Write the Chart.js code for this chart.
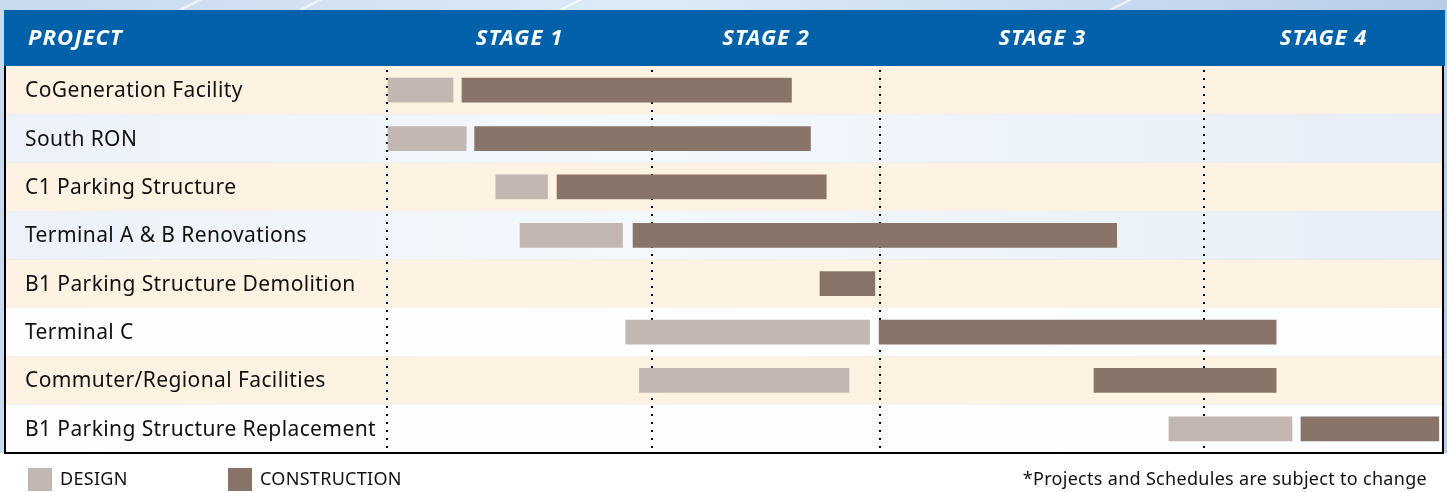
<!DOCTYPE html>
<html>
<head>
<meta charset="utf-8">
<script src="https://cdn.jsdelivr.net/npm/chart.js@4.4.1/dist/chart.umd.min.js"></script>
<style>
  html, body { margin: 0; padding: 0; background: #fff; }
  #wrap { width: 1447px; height: 492px; }
</style>
</head>
<body>
<div id="wrap"><canvas id="gantt" width="1447" height="492"></canvas></div>
<script>
// Timeline runs 0..100 across the chart area
const projects = [
  'CoGeneration Facility',
  'South RON',
  'C1 Parking Structure',
  'Terminal A & B Renovations',
  'B1 Parking Structure Demolition',
  'Terminal C',
  'Commuter/Regional Facilities',
  'B1 Parking Structure Replacement'
];
const designStart       = [0.1, 0.1, 10.3, 12.6, null, 22.6, 23.9, 74.05];
const designEnd         = [6.25, 7.5, 15.2, 22.3, null, 45.7, 43.75, 85.7];
const constructionStart = [7.1, 8.3, 16.1, 23.3, 41.0, 46.6, 66.95, 86.55];
const constructionEnd   = [38.3, 40.1, 41.6, 69.1, 46.2, 84.2, 84.2, 99.6];

const stageLabels = ['STAGE 1', 'STAGE 2', 'STAGE 3', 'STAGE 4'];
const stageBounds = [0, 25.1, 46.7, 77.4, 100];

const DESIGN_COLOR = '#c2b8b1';
const CONSTRUCTION_COLOR = '#887468';
const HEADER_BLUE = '#0061ab';
const FONT = '"Noto Sans", "DejaVu Sans", sans-serif';

const toRange = (s, e) => s.map((v, i) => (v == null ? null : [v, e[i]]));

// Background, rows, header band, dotted stage lines, labels, legend
const ganttDecor = {
  id: 'ganttDecor',
  beforeDraw(chart) {
    const { ctx, chartArea: a, scales: { x, y } } = chart;
    const W = chart.width;
    ctx.save();
    // sky behind the table
    const sky = ctx.createLinearGradient(0, 0, W, 0);
    sky.addColorStop(0, '#c9d9ee');
    sky.addColorStop(0.45, '#dcebf7');
    sky.addColorStop(1, '#b9cde8');
    ctx.fillStyle = sky;
    ctx.fillRect(0, 0, W, a.bottom);
    // a few faint light streaks
    ctx.strokeStyle = 'rgba(255,255,255,0.7)';
    ctx.lineWidth = 2;
    [[180, 10, 260, -30], [300, 10, 380, -30], [560, 10, 640, -30], [1110, 10, 1190, -30]].forEach(s => {
      ctx.beginPath(); ctx.moveTo(s[0], s[1]); ctx.lineTo(s[2], s[3]); ctx.stroke();
    });

    const band = (y.bottom - y.top) / projects.length;
    const left = 5, right = 1443;
    projects.forEach((p, i) => {
      const cy = y.getPixelForValue(i);
      ctx.fillStyle = i % 2 === 0 ? '#fef3e3' : (i < 4 ? 'rgba(255,255,255,0.65)' : 'rgba(255,255,255,0.95)');
      ctx.fillRect(left, cy - band / 2, right - left, band);
    });

    // header band
    ctx.fillStyle = HEADER_BLUE;
    ctx.fillRect(4, 10, W - 6, a.top - 10);
    ctx.fillStyle = '#ffffff';
    ctx.font = 'italic bold 22px ' + FONT;
    ctx.letterSpacing = '1px';
    ctx.textBaseline = 'middle';
    ctx.textAlign = 'left';
    const hy = (10 + a.top) / 2 + 1;
    ctx.fillText('PROJECT', 28, hy);
    ctx.textAlign = 'center';
    stageLabels.forEach((s, i) => {
      const cx = (x.getPixelForValue(stageBounds[i]) + x.getPixelForValue(stageBounds[i + 1])) / 2;
      ctx.fillText(s, cx, hy);
    });

    // project names
    ctx.fillStyle = '#111111';
    ctx.font = '21px ' + FONT;
    ctx.letterSpacing = '0.4px';
    ctx.textAlign = 'left';
    projects.forEach((p, i) => {
      ctx.fillText(p, 25, y.getPixelForValue(i) + 1);
    });
    ctx.letterSpacing = '0px';

    // dotted stage lines
    ctx.strokeStyle = '#000000';
    ctx.lineWidth = 2;
    ctx.setLineDash([2, 6]);
    stageBounds.slice(0, 4).forEach(v => {
      const px = Math.round(x.getPixelForValue(v));
      ctx.beginPath();
      ctx.moveTo(px, a.top + 4);
      ctx.lineTo(px, a.bottom);
      ctx.stroke();
    });
    ctx.setLineDash([]);
    ctx.restore();
  },
  afterDraw(chart) {
    const { ctx, chartArea: a } = chart;
    ctx.save();
    // table frame
    ctx.strokeStyle = '#000000';
    ctx.lineWidth = 2;
    ctx.beginPath();
    ctx.moveTo(5, a.top);
    ctx.lineTo(5, a.bottom);
    ctx.lineTo(1443, a.bottom);
    ctx.lineTo(1443, a.top);
    ctx.stroke();

    // legend
    const ly = 480;
    ctx.font = '18px ' + FONT;
    ctx.letterSpacing = '0.3px';
    ctx.textBaseline = 'middle';
    ctx.textAlign = 'left';
    chart.data.datasets.forEach((ds, i) => {
      const lx = i === 0 ? 28 : 228;
      ctx.fillStyle = ds.backgroundColor;
      ctx.fillRect(lx, ly - 12, 24, 23);
      ctx.fillStyle = '#111111';
      ctx.fillText(ds.label.toUpperCase(), lx + 32, ly);
    });
    ctx.textAlign = 'right';
    ctx.fillText('*Projects and Schedules are subject to change', 1427, ly);
    ctx.restore();
  }
};

new Chart(document.getElementById('gantt'), {
  type: 'bar',
  data: {
    labels: projects,
    datasets: [
      {
        label: 'Design',
        data: toRange(designStart, designEnd),
        backgroundColor: DESIGN_COLOR,
        grouped: false,
        barThickness: 24,
        borderWidth: 0,
        borderSkipped: false
      },
      {
        label: 'Construction',
        data: toRange(constructionStart, constructionEnd),
        backgroundColor: CONSTRUCTION_COLOR,
        grouped: false,
        barThickness: 24,
        borderWidth: 0,
        borderSkipped: false
      }
    ]
  },
  options: {
    indexAxis: 'y',
    responsive: false,
    animation: false,
    layout: { padding: { left: 387, right: 4, top: 66, bottom: 39 } },
    scales: {
      x: { type: 'linear', min: 0, max: 100, display: false },
      y: { type: 'category', display: false, offset: true }
    },
    plugins: {
      legend: { display: false },
      tooltip: { enabled: false }
    }
  },
  plugins: [ganttDecor]
});
</script>
</body>
</html>
